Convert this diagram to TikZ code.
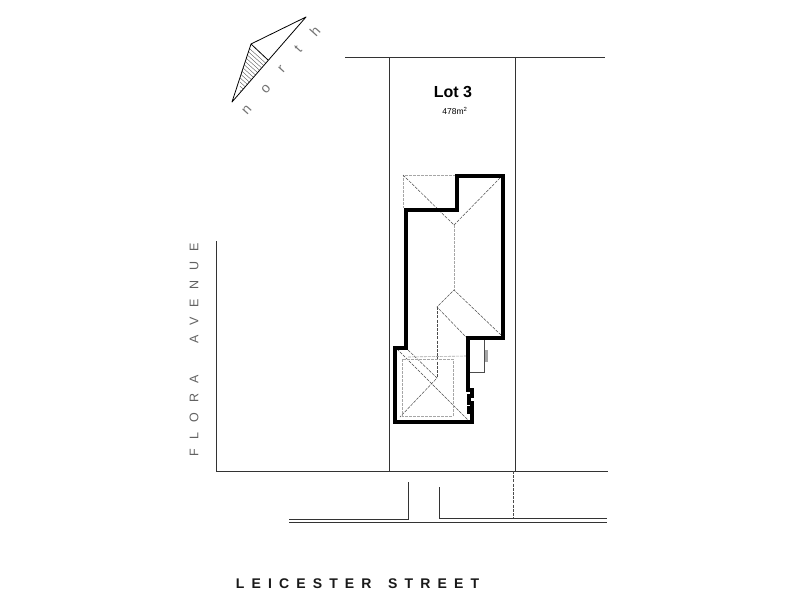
\documentclass[tikz,border=0pt]{standalone}
\usepackage{fontspec}
\setmainfont{Liberation Sans}
\usetikzlibrary{positioning}
\tikzset{
  boundary/.style={line width=0.9pt,color=black!80},
  wall/.style={line width=3.1pt,color=black,line join=miter},
  roof/.style={line width=0.5pt,color=black!70,dash pattern=on 3pt off 1.2pt},
  roofpale/.style={line width=0.6pt,color=black!35,dash pattern=on 3pt off 1pt},
  street/.style={font=\bfseries\fontsize{14}{16}\selectfont\addfontfeature{LetterSpace=51},color=black!90},
  avenue/.style={font=\fontsize{12.5}{14}\selectfont\addfontfeature{LetterSpace=79},color=black!62,rotate=90},
  compass/.style={font=\fontsize{14}{16}\selectfont,color=black!55,rotate=48}
}
\begin{document}
\begin{tikzpicture}[x=1pt,y=-1pt]
  \useasboundingbox[fill=white] (0,0) rectangle (800,600);
  % lot boundary
  \draw[boundary] (345,57) -- (605,57);
  \draw[boundary] (389,57) -- (389,471);
  \draw[boundary] (515,57) -- (515,471);
  \draw[boundary] (216,241) -- (216,471) -- (608,471);
  % street edge and driveway
  \draw[boundary] (289,519) -- (408,519) -- (408,482);
  \draw[boundary] (439,487) -- (439,518.5) -- (607,518.5);
  \draw[boundary] (289,522) -- (607,522);
  \draw[roof] (513,471) -- (513,518);
  % roof lines
  \draw[roofpale] (456,175) -- (403,175) -- (403,208);
  \draw[roof] (403,175) -- (454,225) -- (500,178);
  \draw[roofpale] (454,225) -- (454,290);
  \draw[roof] (501,335) -- (454,290) -- (437,307) -- (466,337);
  \draw[roof] (437,307) -- (437,378);
  \draw[roof] (408,350) -- (437,378) -- (400,417);
  \draw[roof] (397,349) -- (468,420);
  \draw[roofpale] (402,359) rectangle (453,416);
  \draw[roofpale] (408,357) -- (466,356);
  % porch
  \draw[line width=0.7pt,color=black!70] (484,340) -- (484,372) -- (470,372);
  \fill[black!35] (485,350) rectangle (488,362);
  % house outline
  \draw[wall] (457,176) -- (503,176) -- (503,338) -- (468,338) -- (468,390)
    -- (472,390) -- (472,396) -- (469,396) -- (469,403) -- (472,403)
    -- (472,408) -- (469,408) -- (469,412) -- (472,412) -- (472,422)
    -- (395,422) -- (395,348) -- (406,348) -- (406,210) -- (457,210) -- cycle;
  % north point
  \begin{scope}
    \clip (251,44) -- (268,60) -- (232,102) -- cycle;
    \foreach \n in {0,...,14}
      \draw[line width=0.35pt,color=black!70] (240,{40+4.2*\n}) -- ++(40,36);
  \end{scope}
  \draw[line width=0.8pt,line join=round] (306,17) -- (251,44) -- (232,102) -- cycle;
  \draw[line width=0.8pt] (251,44) -- (268,60);
  \node[compass] (northn) at (247,110) {n};
  \node[compass] (northo) at (266,89) {o};
  \node[compass] (northr) at (282,69) {r};
  \node[compass] (northt) at (298,49) {t};
  \node[compass] (northh) at (315,31) {h};
  % labels
  \node[font=\fontsize{16}{18}\selectfont\bfseries] (lot) at (453,92) {Lot 3};
  \node[font=\fontsize{8.5}{10}\selectfont] (area) at (455,111) {478m\textsuperscript{2}};
  \node[avenue] (flora) at (194,350) {FLORA\hspace{2.6em}AVENUE};
  \node[street] (leicester) at (357.5,583.5) {LEICESTER\hspace{0.4em} STREET};
\end{tikzpicture}
\end{document}
